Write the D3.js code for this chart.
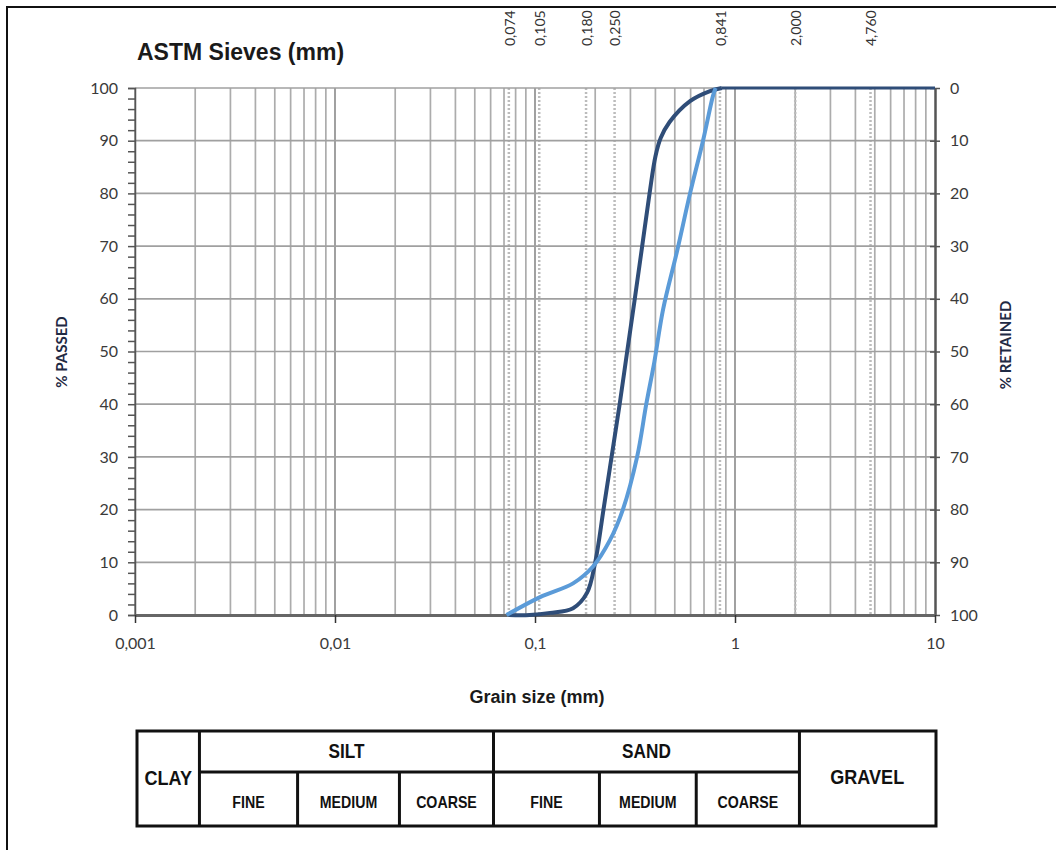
<!DOCTYPE html>
<html>
<head>
<meta charset="utf-8">
<script src="https://cdnjs.cloudflare.com/ajax/libs/d3/7.8.5/d3.min.js"></script>
<style>
  body { margin: 0; background: #fff; }
  svg { display: block; }
</style>
</head>
<body>
<div id="chart"></div>
<script>
// sieve openings drawn as dotted lines + labels on top
var sieveSizes  = [0.074, 0.105, 0.180, 0.250, 0.841, 2.000, 4.760];
var sieveLabels = ["0,074", "0,105", "0,180", "0,250", "0,841", "2,000", "4,760"];

// sample 1 (dark curve): grain size (mm) / % passed
var darkSize = [0.074, 0.094, 0.119, 0.155, 0.182, 0.200, 0.220, 0.2415, 0.265, 0.289, 0.3155, 0.3435, 0.374, 0.400, 0.425, 0.470, 0.596, 0.750, 0.860];
var darkPass = [0, 0, 0.4, 1.3, 4.2, 10, 20, 30, 40, 50, 60, 70, 80, 87, 90.5, 93.5, 97.5, 99.4, 100];
// flat part at 100 % after the last sieve
var darkTopSize = [0.860, 2.0, 4.76, 10];
var darkTopPass = [100, 100, 100, 100];

// sample 2 (light curve)
var lightSize = [0.072, 0.106, 0.155, 0.195, 0.237, 0.275, 0.324, 0.360, 0.395, 0.437, 0.513, 0.596, 0.692, 0.776, 0.800];
var lightPass = [0, 3.4, 6, 9.2, 14.2, 20, 30, 40, 48, 58, 69, 80, 90, 98.5, 100];

var xTickValues = [0.001, 0.01, 0.1, 1, 10];
var xTickLabels = ["0,001", "0,01", "0,1", "1", "10"];
var passTicks = [0, 10, 20, 30, 40, 50, 60, 70, 80, 90, 100];

// soil classification table (boundaries in mm)
var clayLimit = 0.0021;
var mainGroups = ["SILT", "SAND"];
var mainBounds = [[0.0021, 0.062], [0.062, 2.1]];
var subLabels = ["FINE", "MEDIUM", "COARSE", "FINE", "MEDIUM", "COARSE"];
var subBounds = [0.0021, 0.0065, 0.021, 0.062, 0.21, 0.64, 2.1];

var width = 1056, height = 850;
var svg = d3.select("#chart").append("svg")
    .attr("width", width)
    .attr("height", height);

var x = d3.scaleLog().domain([0.001, 10]).range([135, 935]);
var y = d3.scaleLinear().domain([0, 100]).range([615, 88]);
var yR = d3.scaleLinear().domain([100, 0]).range([615, 88]);

var labelFont = "Lato, 'Open Sans', sans-serif";
var boldFont = "'Liberation Sans', Arial, sans-serif";

// frame of the picture (only left + top show)
svg.append("path")
  .attr("d", "M7,850V7H1056")
  .attr("fill", "none")
  .attr("stroke", "#111")
  .attr("stroke-width", 2);

// vertical log grid
var gridVals = [];
[0.001, 0.01, 0.1, 1].forEach(function(dec) {
  for (var k = 1; k <= 9; k++) gridVals.push(dec * k);
});
svg.append("g").selectAll("line")
  .data(gridVals)
  .enter().append("line")
  .attr("x1", function(d) { return x(d); })
  .attr("x2", function(d) { return x(d); })
  .attr("y1", y(100))
  .attr("y2", y(0))
  .attr("stroke", function(d) { return xTickValues.indexOf(d) >= 0 ? "#909090" : "#acacac"; })
  .attr("stroke-width", 1.7);

// sieve dotted lines
svg.append("g").selectAll("line")
  .data(sieveSizes)
  .enter().append("line")
  .attr("x1", function(d) { return x(d); })
  .attr("x2", function(d) { return x(d); })
  .attr("y1", y(100))
  .attr("y2", y(0))
  .attr("stroke", "#bcbcbc")
  .attr("stroke-width", 2.5)
  .attr("stroke-dasharray", "2,2");

// horizontal grid
svg.append("g").selectAll("line")
  .data(passTicks)
  .enter().append("line")
  .attr("x1", x(0.001))
  .attr("x2", x(10))
  .attr("y1", function(d) { return y(d); })
  .attr("y2", function(d) { return y(d); })
  .attr("stroke", "#a0a0a0")
  .attr("stroke-width", 1.7);

// axes
var leftAxis = svg.append("g")
  .attr("transform", "translate(" + x(0.001) + ",0)")
  .call(d3.axisLeft(y).tickValues(d3.range(0, 101, 2)).tickSize(7).tickFormat(""));
leftAxis.select(".domain").attr("stroke", "#555").attr("stroke-width", 1.5);
leftAxis.selectAll(".tick line").attr("stroke", "#555").attr("stroke-width", 1.5);

svg.append("g").selectAll("text")
  .data(passTicks)
  .enter().append("text")
  .attr("x", 118)
  .attr("y", function(d) { return y(d); })
  .attr("dy", "0.35em")
  .attr("text-anchor", "end")
  .attr("font-family", labelFont)
  .attr("font-size", "16px")
  .attr("fill", "#3a3a3a")
  .text(function(d) { return d; });

var rightAxis = svg.append("g")
  .attr("transform", "translate(" + x(10) + ",0)")
  .call(d3.axisRight(yR).tickValues(passTicks).tickSizeInner(5).tickSizeOuter(0).tickFormat(""));
rightAxis.select(".domain").attr("stroke", "#555").attr("stroke-width", 2.5);
rightAxis.selectAll(".tick line").attr("stroke", "#555").attr("stroke-width", 1.5).attr("x1", -5);

svg.append("g").selectAll("text")
  .data(passTicks)
  .enter().append("text")
  .attr("x", 950)
  .attr("y", function(d) { return yR(d); })
  .attr("dy", "0.35em")
  .attr("font-family", labelFont)
  .attr("font-size", "16px")
  .attr("fill", "#3a3a3a")
  .text(function(d) { return d; });

var bottomAxis = svg.append("g")
  .attr("transform", "translate(0," + y(0) + ")")
  .call(d3.axisBottom(x).tickValues(xTickValues).tickSize(8).tickSizeOuter(0)
    .tickFormat(function(d, i) { return xTickLabels[i]; }));
bottomAxis.select(".domain").attr("stroke", "#666").attr("stroke-width", 3);
bottomAxis.selectAll(".tick line").attr("stroke", "#333").attr("stroke-width", 1.5);
bottomAxis.selectAll(".tick text")
  .attr("y", 23)
  .attr("font-family", labelFont)
  .attr("font-size", "16px")
  .attr("fill", "#3a3a3a");

// curves
var line = d3.line()
  .x(function(d) { return x(d[0]); })
  .y(function(d) { return y(d[1]); })
  .curve(d3.curveCatmullRom.alpha(0.5));

svg.append("path")
  .datum(d3.zip(darkTopSize, darkTopPass))
  .attr("d", line)
  .attr("fill", "none")
  .attr("stroke", "#2f4d78")
  .attr("stroke-width", 3);

svg.append("path")
  .datum(d3.zip(darkSize, darkPass))
  .attr("d", line)
  .attr("fill", "none")
  .attr("stroke", "#2f4d78")
  .attr("stroke-width", 4);

svg.append("path")
  .datum(d3.zip(lightSize, lightPass))
  .attr("d", line)
  .attr("fill", "none")
  .attr("stroke", "#5b9bd8")
  .attr("stroke-width", 4);

// sieve labels on top
svg.append("g").selectAll("text")
  .data(sieveSizes)
  .enter().append("text")
  .attr("transform", function(d) { return "translate(" + (x(d) + 1) + ",46) rotate(-90)"; })
  .attr("dy", "0.35em")
  .attr("font-family", labelFont)
  .attr("font-size", "14px")
  .attr("fill", "#333")
  .text(function(d, i) { return sieveLabels[i]; });

// titles
svg.append("text")
  .attr("x", 137).attr("y", 60)
  .attr("font-family", boldFont)
  .attr("font-weight", "bold")
  .attr("font-size", "23px")
  .attr("fill", "#1a1a1a")
  .text("ASTM Sieves (mm)");

svg.append("text")
  .attr("x", 537).attr("y", 703)
  .attr("text-anchor", "middle")
  .attr("font-family", boldFont)
  .attr("font-weight", "bold")
  .attr("font-size", "18px")
  .attr("fill", "#1a1a1a")
  .text("Grain size (mm)");

svg.append("text")
  .attr("transform", "translate(62,352) rotate(-90)")
  .attr("dy", "0.35em")
  .attr("text-anchor", "middle")
  .attr("font-family", labelFont)
  .attr("font-weight", "bold")
  .attr("font-size", "15px")
  .attr("fill", "#1f2a44")
  .text("% PASSED");

svg.append("text")
  .attr("transform", "translate(1006,345) rotate(-90)")
  .attr("dy", "0.35em")
  .attr("text-anchor", "middle")
  .attr("font-family", labelFont)
  .attr("font-weight", "bold")
  .attr("font-size", "15px")
  .attr("fill", "#1f2a44")
  .text("% RETAINED");

// classification table
var tTop = 731, tMid = 772, tBot = 826;
var table = svg.append("g")
  .attr("fill", "none")
  .attr("stroke", "#111")
  .attr("stroke-width", 3);

table.append("rect")
  .attr("x", x(0.001) + 2).attr("y", tTop)
  .attr("width", x(10) - x(0.001) - 1)
  .attr("height", tBot - tTop);

table.append("line")
  .attr("x1", x(clayLimit)).attr("x2", x(mainBounds[1][1]))
  .attr("y1", tMid).attr("y2", tMid);

table.selectAll("line.sub")
  .data(subBounds)
  .enter().append("line")
  .attr("class", "sub")
  .attr("x1", function(d) { return x(d); })
  .attr("x2", function(d) { return x(d); })
  .attr("y1", function(d) { return (d === clayLimit || d === 0.062 || d === 2.1) ? tTop : tMid; })
  .attr("y2", tBot);

// narrow bold text, squeezed horizontally like the original
function cellText(cx, cy, txt, size) {
  svg.append("text")
    .attr("transform", "translate(" + cx + "," + cy + ") scale(0.86,1)")
    .attr("dy", "0.35em").attr("text-anchor", "middle")
    .attr("font-family", boldFont).attr("font-weight", "bold").attr("font-size", size + "px")
    .attr("fill", "#111").text(txt);
}

cellText((x(0.001) + x(clayLimit)) / 2 + 1, (tTop + tBot) / 2 - 1, "CLAY", 21);
cellText((x(2.1) + x(10)) / 2, (tTop + tBot) / 2 - 2, "GRAVEL", 21);
mainGroups.forEach(function(g, i) {
  cellText((x(mainBounds[i][0]) + x(mainBounds[i][1])) / 2, (tTop + tMid) / 2 - 1, g, 20);
});
subLabels.forEach(function(s, i) {
  cellText((x(subBounds[i]) + x(subBounds[i + 1])) / 2, (tMid + tBot) / 2 + 3, s, 16.5);
});
</script>
</body>
</html>
